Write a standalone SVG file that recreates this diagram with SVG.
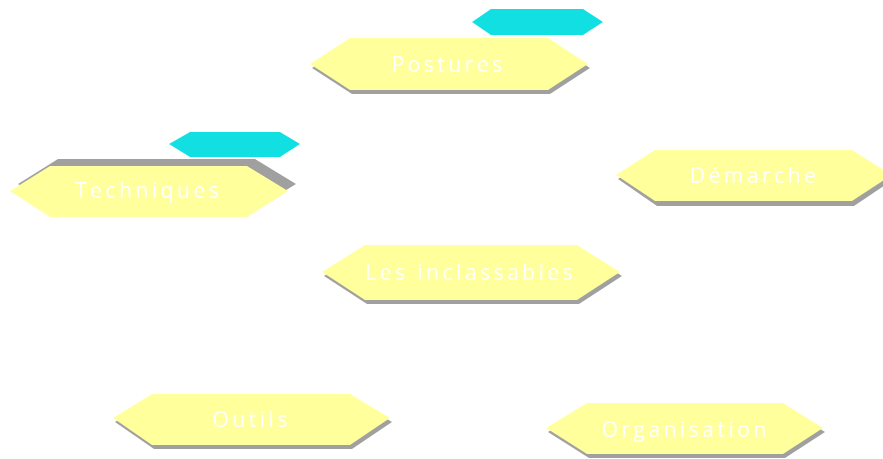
<svg xmlns="http://www.w3.org/2000/svg" width="883" height="459" viewBox="0 0 883 459">
<style>
.sh{fill:#a0a0a0}
.hx{fill:#ffff9c}
.cy{fill:#11dfe2}
.t{font-family:"Open Sans","Noto Sans",sans-serif;font-size:21px;fill:#ffffff;text-anchor:middle;letter-spacing:3.5px}
</style>
<rect width="883" height="459" fill="#ffffff"/>
<g id="connectors"></g>
<g id="postures-tag"><polygon class="cy" points="472,22 491,9 583,9 603,22 583,35 491,35"/></g>
<g id="postures">
<polygon class="sh" points="312,68 352,42 550,42 590,68 550,94 352,94"/>
<polygon class="hx" points="310,64 350,38 548,38 588,64 548,90 350,90"/>
<text class="t" x="449" y="72">Postures</text>
</g>
<g id="techniques-tag"><polygon class="cy" points="169,144 190,132 280,132 300,144 280,157 190,157"/></g>
<g id="techniques">
<polygon class="sh" points="18,184 58,159 255,159 296,184 255,209 58,209"/>
<polygon class="hx" points="10,191 50,166 247,166 288,191 247,217 50,217"/>
<text class="t" x="149" y="198">Techniques</text>
</g>
<g id="demarche">
<polygon class="sh" points="618,179 657,154 854,154 894,179 854,206 657,206"/>
<polygon class="hx" points="616,175 655,150 852,150 892,175 852,201 655,201"/>
<text class="t" x="755" y="183">Démarche</text>
</g>
<g id="inclassables">
<polygon class="sh" points="324,276 367,249 579,249 622,276 579,304 367,304"/>
<polygon class="hx" points="322,272 365,245 577,245 620,272 577,300 365,300"/>
<text class="t" x="471" y="280">Les inclassables</text>
</g>
<g id="outils">
<polygon class="sh" points="115,422 154,398 352,398 392,422 352,449 154,449"/>
<polygon class="hx" points="113,418 152,394 350,394 390,418 350,445 152,445"/>
<text class="t" x="252" y="427">Outils</text>
</g>
<g id="organisation">
<polygon class="sh" points="548,432 589,407 785,407 825,432 785,458 589,458"/>
<polygon class="hx" points="546,428 587,403 783,403 823,428 783,454 587,454"/>
<text class="t" x="686" y="437">Organisation</text>
</g>
</svg>
